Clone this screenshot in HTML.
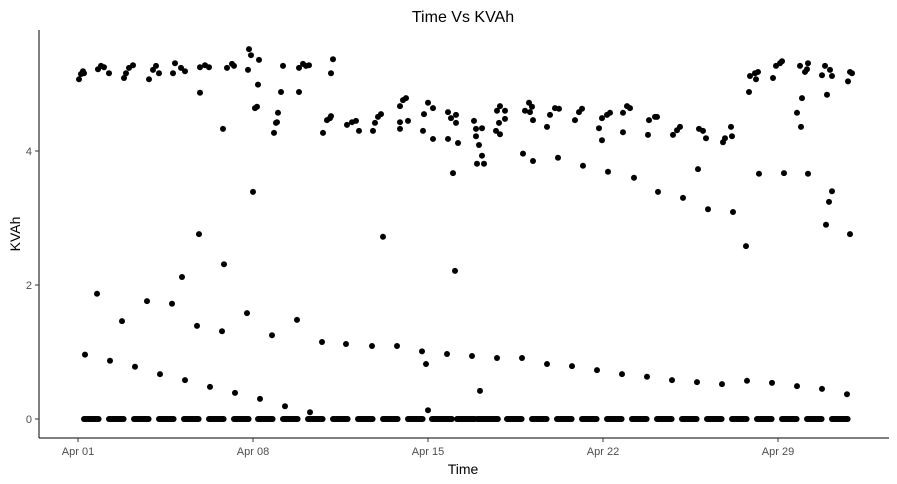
<!DOCTYPE html>
<html><head><meta charset="utf-8"><style>
body{margin:0;background:#fff;}
svg{display:block;font-family:"Liberation Sans",Arial,sans-serif;}
</style></head><body>
<svg id="chart" width="897" height="484">
<text x="463" y="22" text-anchor="middle" font-size="16" fill="#000">Time Vs KVAh</text>
<text x="463" y="474" text-anchor="middle" font-size="14" fill="#000">Time</text>
<text transform="translate(20,234) rotate(-90)" text-anchor="middle" font-size="14" fill="#000">KVAh</text>
<g id="axes"></g>
<g id="points"></g>
</svg>
<script>
const xTickLabels=["Apr 01","Apr 08","Apr 15","Apr 22","Apr 29"];
const xTickDays=[0,7,14,21,28];
const yTickValues=[0,2,4];
const pointDays=[0.04,0.12,0.2,0.24,0.8,0.92,1.04,1.24,1.84,1.92,2.04,2.2,2.84,3.0,3.12,3.24,3.8,3.88,4.12,4.28,4.88,4.88,5.08,5.24,5.8,5.96,6.16,6.24,6.8,6.84,6.92,7.24,7.2,7.08,7.16,8.0,7.92,7.96,7.84,8.2,8.12,8.84,8.84,9.0,9.12,9.24,9.8,9.96,10.08,10.12,10.2,
10.12,10.76,10.96,11.12,11.24,11.8,11.88,12.0,12.12,12.88,12.88,13.0,13.12,13.2,12.88,13.84,14.0,14.2,13.8,14.2,14.8,14.92,15.12,15.12,14.8,15.2,15.0,15.84,15.92,15.92,16.16,16.04,15.96,16.24,16.16,
16.76,16.88,17.08,17.08,16.84,16.88,16.72,17.88,18.04,18.16,18.08,18.2,17.8,18.2,18.76,18.88,19.08,19.24,19.2,19.88,20.04,20.16,20.2,20.84,20.96,21.16,21.28,20.96,21.2,21.8,21.96,22.08,21.8,22.24,
22.84,23.08,23.16,22.8,23.8,23.96,24.08,24.8,24.84,25.0,25.12,25.8,25.88,26.12,26.16,26.84,26.88,27.08,27.2,27.12,27.8,27.92,28.08,28.16,28.88,29.08,29.16,29.2,28.96,28.76,28.92,29.76,29.88,30.08,30.16,29.96,30.8,30.88,30.96,
0.28,0.76,1.28,1.76,2.28,2.76,3.28,3.76,4.28,4.16,4.84,4.76,5.28,5.76,5.84,6.28,6.76,7.0,7.28,7.76,8.28,8.76,9.28,9.76,10.72,11.76,12.2,12.76,13.76,13.92,14.0,14.76,15.08,15.76,16.08,16.76,17.76,18.76,19.76,20.76,21.76,22.76,23.2,23.76,24.2,24.76,25.2,25.76,26.2,26.72,26.76,27.24,27.76,28.24,28.76,29.2,29.76,29.92,30.04,30.16,30.76,30.88];
const pointValues=[5.07,5.15,5.19,5.16,5.22,5.27,5.25,5.16,5.09,5.16,5.24,5.28,5.07,5.21,5.27,5.16,5.16,5.31,5.24,5.19,4.87,5.25,5.28,5.25,4.33,5.24,5.3,5.27,5.21,5.52,5.43,5.36,4.99,4.64,4.66,4.57,4.42,4.43,4.27,5.27,4.88,4.88,5.24,5.3,5.27,5.28,4.27,4.46,4.49,5.16,5.37,
4.52,4.39,4.43,4.45,4.3,4.3,4.42,4.51,4.55,4.43,4.67,4.76,4.79,4.45,4.33,4.55,4.72,4.64,4.3,4.18,4.58,4.49,4.54,4.42,4.18,4.12,3.67,4.45,4.33,4.22,4.34,4.09,3.81,3.81,3.93,
4.6,4.67,4.6,4.48,4.42,4.25,4.3,4.6,4.72,4.66,4.58,4.46,3.96,3.85,4.36,4.54,4.64,4.63,3.9,4.46,4.58,4.63,3.78,4.34,4.49,4.54,4.57,4.16,3.69,4.57,4.67,4.64,4.28,3.6,
4.46,4.51,4.51,4.24,4.24,4.31,4.36,3.73,4.33,4.3,4.19,4.13,4.19,4.36,4.22,4.88,5.12,5.16,5.18,5.07,5.09,5.27,5.31,5.34,5.27,5.18,5.22,5.31,4.79,4.57,4.36,5.13,5.27,5.21,5.12,4.84,5.04,5.18,5.16,
0.96,1.87,0.87,1.46,0.78,1.76,0.67,1.72,0.58,2.12,2.76,1.39,0.48,1.31,2.31,0.39,1.58,3.39,0.3,1.25,0.19,1.48,0.1,1.15,1.12,1.09,2.72,1.09,1.01,0.82,0.13,0.97,2.21,0.94,0.42,0.91,0.91,0.82,0.79,0.73,0.67,0.63,3.39,0.58,3.3,0.55,3.13,0.52,3.09,2.58,0.57,3.66,0.54,3.67,0.49,3.66,0.45,2.9,3.24,3.4,0.37,2.76];
const zeroStart=[0.24,1.24,2.24,3.24,4.24,5.24,6.24,7.2,8.2,9.2,10.2,11.2,12.2,13.2,14.16,15.16,15.96,17.16,18.16,19.16,20.16,21.16,22.16,23.16,24.16,25.16,26.16,27.16,28.16,29.16,30.16];
const zeroEnd=[0.84,1.84,2.84,3.84,4.84,5.84,6.84,7.8,8.8,9.8,10.8,11.8,12.8,13.8,14.96,15.88,16.8,17.76,18.76,19.76,20.76,21.76,22.76,23.76,24.76,25.76,26.76,27.76,28.76,29.76,30.8];
const X0=78,PX_DAY=25,Y0=419,PX_UNIT=67;
function xs(d){return X0+d*PX_DAY;}
function ys(v){return Y0-v*PX_UNIT;}
const NS="http://www.w3.org/2000/svg";
const axes=document.getElementById('axes');
function mk(t,a,p){const e=document.createElementNS(NS,t);for(const k in a)e.setAttribute(k,a[k]);p.appendChild(e);return e;}
const xl=mk('line',{x1:39,y1:438,x2:889,y2:438,stroke:'#000','stroke-width':1},axes);


const yl=mk('line',{x1:39,y1:30,x2:39,y2:438,stroke:'#000','stroke-width':1},axes);


xTickDays.forEach((d,i)=>{
  const x=xs(d);
  const t=mk('line',{x1:x,y1:438,x2:x,y2:442,stroke:'#333'},axes);
  
  
  const l=mk('text',{x:x,y:455,'text-anchor':'middle','font-size':11,fill:'#4d4d4d'},axes);
  l.textContent=xTickLabels[i];
  
  
});
yTickValues.forEach(v=>{
  const y=ys(v);
  const t=mk('line',{x1:35,y1:y,x2:39,y2:y,stroke:'#333'},axes);
  
  
  const l=mk('text',{x:32,y:y+4,'text-anchor':'end','font-size':11,fill:'#4d4d4d'},axes);
  l.textContent=v;
  
  
});
const pg=document.getElementById('points');
pointDays.forEach((d,i)=>{
  const c=mk('circle',{cx:xs(d),cy:ys(pointValues[i]),r:3,fill:'#000'},pg);
  
  
});
zeroStart.forEach((s,i)=>{
  for(let d=s;d<=zeroEnd[i]+1e-6;d+=1/24){
    const c=mk('circle',{cx:xs(d),cy:ys(0),r:3,fill:'#000'},pg);
    
    
  }
});
</script>
</body></html>
